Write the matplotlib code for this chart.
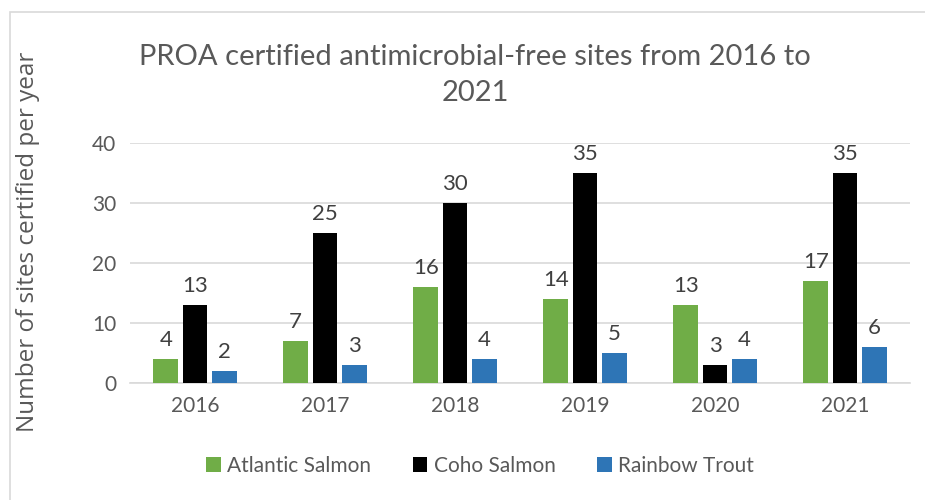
import numpy as np
import matplotlib.pyplot as plt
from matplotlib.patches import Rectangle

years = ['2016', '2017', '2018', '2019', '2020', '2021']
atlantic = [4, 7, 16, 14, 13, 17]
coho = [13, 25, 30, 35, 3, 35]
rainbow = [2, 3, 4, 5, 4, 6]

series = [('Atlantic Salmon', atlantic, '#70AD47'),
          ('Coho Salmon', coho, '#000000'),
          ('Rainbow Trout', rainbow, '#2E75B6')]

txt = '#595959'
plt.rcParams['font.family'] = ['Lato', 'DejaVu Sans']

fig = plt.figure(figsize=(9.25, 5), dpi=100)
ax = fig.add_axes([130 / 925, 1 - 383 / 500, 780 / 925, 240 / 500])

# chart border (cut off at right and bottom like the screenshot)
fig.patches.append(Rectangle((10 / 925, -0.01), 1.0, 1 - 12 / 500 + 0.01,
                             transform=fig.transFigure, fill=False,
                             edgecolor='#D9D9D9', linewidth=1.2))

x = np.arange(len(years))
width = 0.19
offsets = [-0.225, 0, 0.225]
for (name, vals, col), off in zip(series, offsets):
    bars = ax.bar(x + off, vals, width, color=col, label=name, zorder=3)
    for b, v in zip(bars, vals):
        ax.text(b.get_x() + b.get_width() / 2, v + 1.5, str(v),
                ha='center', va='bottom', fontsize=16, color='#404040')

ax.set_xlim(-0.5, 5.5)
ax.set_ylim(0, 40)
ax.set_yticks([0, 10, 20, 30, 40])
ax.set_xticks(x)
ax.set_xticklabels(years)
ax.yaxis.grid(True, color='#D9D9D9', linewidth=1.2, zorder=0)
for s in ['top', 'right', 'left']:
    ax.spines[s].set_visible(False)
ax.spines['bottom'].set_color('#D9D9D9')
ax.spines['bottom'].set_linewidth(1.2)
ax.tick_params(axis='both', length=0, labelsize=15, labelcolor=txt)
ax.tick_params(axis='y', pad=10)
ax.tick_params(axis='x', pad=9)

ax.set_ylabel('Number of sites certified per year', fontsize=17.5, color=txt,
              family=['Open Sans', 'DejaVu Sans'])
ax.yaxis.set_label_coords(-90 / 780, 0.59)

fig.text(475 / 925, 1 - 75 / 500,
         'PROA certified antimicrobial-free sites from 2016 to\n2021',
         ha='center', va='center', fontsize=21, color=txt,
         linespacing=1.5)

fig.legend(loc='center', bbox_to_anchor=(480 / 925, 1 - 466 / 500), ncol=3,
           frameon=False, fontsize=15, labelcolor=txt, handlelength=0.7,
           handleheight=0.7, handletextpad=0.3, columnspacing=2.0)

fig.savefig('out.png', dpi=100)
